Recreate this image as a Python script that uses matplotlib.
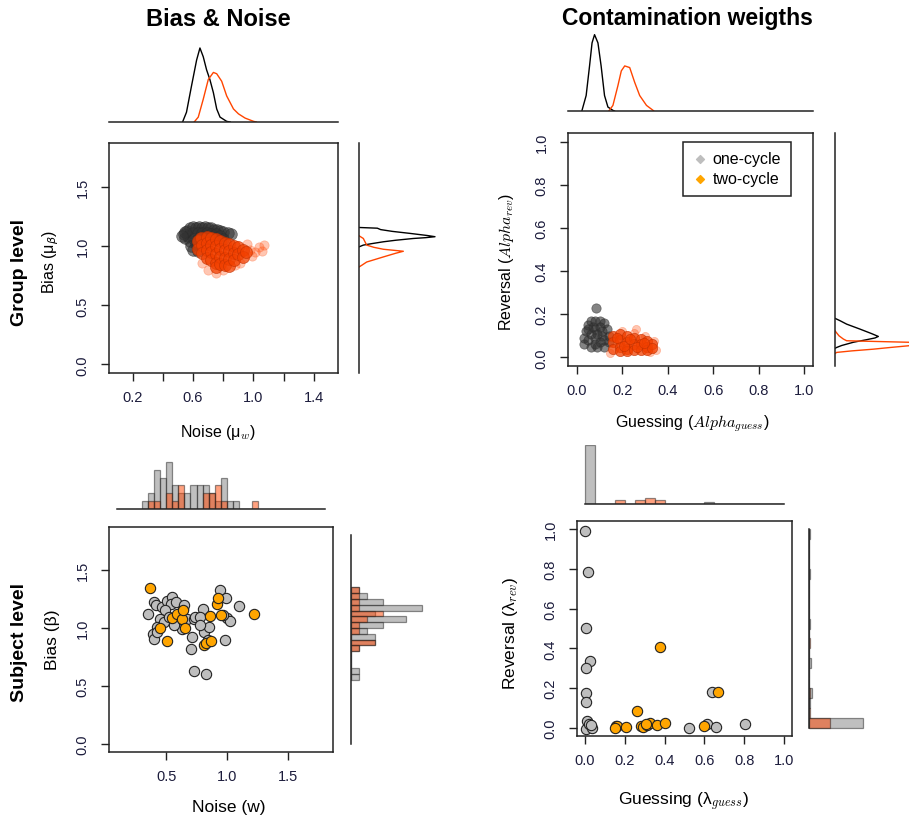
import numpy as np
import matplotlib
matplotlib.use('Agg')
import matplotlib.pyplot as plt

plt.rcParams['font.family'] = ['Liberation Sans', 'DejaVu Sans']

W, H = 909, 820

GREY_PT = '#BEBEBE'
ORANGE_PT = '#FFA500'
RED = '#FF4500'
TICK_C = '#1c1c3c'

# ---- group level, bias & noise: posterior samples ----
a_one_noise = [0.54, 0.55, 0.56, 0.58, 0.60, 0.62, 0.64, 0.66, 0.68, 0.70, 0.72, 0.74, 0.76, 0.78,
               0.80, 0.83, 0.85, 0.57, 0.60, 0.63, 0.66, 0.69, 0.72, 0.75, 0.78, 0.58, 0.61, 0.64,
               0.59, 0.62, 0.60, 0.63, 0.66, 0.70, 0.74, 0.80, 0.55, 0.53]
a_one_bias = [1.10, 1.07, 1.13, 1.15, 1.16, 1.15, 1.16, 1.15, 1.16, 1.15, 1.15, 1.14, 1.14, 1.13,
              1.12, 1.11, 1.10, 1.09, 1.11, 1.11, 1.11, 1.11, 1.10, 1.10, 1.09, 1.04, 1.06, 1.07,
              1.00, 1.02, 0.97, 0.96, 1.05, 1.06, 1.06, 1.06, 1.12, 1.09]
a_two_noise = [0.63, 0.63, 0.65, 0.66, 0.66, 0.69, 0.69, 0.69, 0.69, 0.72, 0.72, 0.72, 0.72, 0.75,
               0.75, 0.75, 0.75, 0.75, 0.78, 0.78, 0.78, 0.78, 0.81, 0.81, 0.81, 0.81, 0.84, 0.84,
               0.84, 0.84, 0.87, 0.87, 0.87, 0.90, 0.90, 0.93, 0.93, 0.95]
a_two_bias = [1.04, 0.98, 1.07, 1.01, 0.94, 1.08, 1.03, 0.97, 0.90, 1.07, 1.01, 0.95, 0.88, 1.06,
              1.00, 0.93, 0.86, 0.82, 1.04, 0.98, 0.91, 0.85, 1.03, 0.97, 0.90, 0.84, 1.02, 0.96,
              0.89, 0.83, 1.00, 0.94, 0.88, 0.99, 0.93, 0.97, 0.91, 0.95]
a_two_tail_noise = [0.98, 1.01, 1.04, 1.07, 1.06, 0.99, 0.91, 0.88, 0.70, 0.75, 0.80, 0.66, 0.96]
a_two_tail_bias = [0.97, 0.95, 0.99, 1.01, 0.96, 0.92, 0.86, 0.84, 0.80, 0.77, 0.80, 0.86, 1.02]

# marginal densities (group level, bias & noise)
a_top_x1 = [0.531, 0.557, 0.590, 0.624, 0.646, 0.668, 0.690, 0.712, 0.735, 0.757, 0.779, 0.823, 0.846]
a_top_d1 = [0, 30, 110, 190, 227, 200, 160, 130, 90, 40, 15, 2, 0]
a_top_x2 = [0.608, 0.635, 0.668, 0.701, 0.735, 0.757, 0.790, 0.823, 0.868, 0.901, 0.945, 1.001, 1.019]
a_top_d2 = [0, 15, 70, 130, 152, 148, 125, 80, 40, 25, 12, 2, 0]
a_rt_b1 = [1.158, 1.152, 1.14, 1.125, 1.108, 1.09, 1.08, 1.072, 1.065, 1.05, 1.037, 1.02, 1.009, 0.994]
a_rt_d1 = [0, 55, 65, 100, 153, 205, 228, 200, 163, 110, 73, 35, 13, 0]
a_rt_b2 = [1.088, 1.065, 1.009, 0.99, 0.974, 0.957, 0.94, 0.909, 0.866, 0.838, 0.824]
a_rt_d2 = [0, 13, 23, 45, 73, 133, 110, 73, 23, 8, 0]

# ---- group level, contamination weights ----
b_one_guess = [0.03, 0.03, 0.04, 0.05, 0.06, 0.08, 0.10, 0.12, 0.13, 0.14, 0.14, 0.12, 0.09, 0.06,
               0.05, 0.06, 0.08, 0.10, 0.11, 0.12, 0.08, 0.10, 0.07, 0.09, 0.05, 0.11, 0.08, 0.083]
b_one_rev = [0.06, 0.09, 0.12, 0.15, 0.17, 0.17, 0.17, 0.16, 0.13, 0.10, 0.07, 0.05, 0.05, 0.05,
             0.08, 0.11, 0.13, 0.14, 0.10, 0.08, 0.09, 0.07, 0.14, 0.11, 0.13, 0.12, 0.06, 0.229]
b_two_guess = [0.16, 0.16, 0.16, 0.19, 0.19, 0.19, 0.19, 0.22, 0.22, 0.22, 0.22, 0.25, 0.25, 0.25,
               0.28, 0.28, 0.28, 0.31, 0.31, 0.31, 0.33, 0.33, 0.175, 0.205, 0.235, 0.265, 0.295]
b_two_rev = [0.10, 0.07, 0.04, 0.11, 0.08, 0.05, 0.03, 0.10, 0.07, 0.04, 0.03, 0.09, 0.06, 0.035,
             0.085, 0.06, 0.035, 0.075, 0.05, 0.035, 0.06, 0.045, 0.09, 0.055, 0.085, 0.05, 0.065]
b_two_tail_guess = [0.26, 0.25, 0.35, 0.34, 0.145, 0.30, 0.32, 0.20]
b_two_tail_rev = [0.13, 0.115, 0.035, 0.075, 0.02, 0.10, 0.025, 0.12]

b_top_x1 = [0.021, 0.04, 0.055, 0.066, 0.077, 0.092, 0.106, 0.121, 0.136, 0.158, 0.165]
b_top_d1 = [0, 47, 137, 207, 232, 207, 137, 47, 12, 2, 0]
b_top_x2 = [0.14, 0.158, 0.18, 0.195, 0.21, 0.232, 0.254, 0.276, 0.306, 0.335, 0.338]
b_top_d2 = [0, 17, 77, 122, 137, 132, 87, 47, 17, 2, 0]
b_rt_r1 = [0.181, 0.17, 0.154, 0.131, 0.11, 0.097, 0.09, 0.082, 0.07, 0.055, 0.046, 0.042]
b_rt_d1 = [0, 15, 35, 75, 110, 130, 120, 95, 55, 20, 5, 0]
b_rt_r2 = [0.123, 0.10, 0.085, 0.077, 0.07, 0.062, 0.054, 0.045, 0.038, 0.03, 0.023, 0.018]
b_rt_d2 = [0, 12, 25, 35, 222, 290, 222, 160, 115, 50, 5, 0]

# ---- subject level, bias & noise ----
c_one_noise = [0.354, 0.400, 0.419, 0.467, 0.508, 0.549, 0.541, 0.584, 0.495, 0.454, 0.427, 0.394,
               0.400, 0.427, 0.481, 0.522, 0.589, 0.630, 0.638, 0.644, 0.671, 0.725, 0.738, 0.806,
               0.774, 0.711, 0.703, 0.725, 0.831, 0.812, 0.850, 0.847, 0.942, 0.991, 0.996, 1.023,
               0.982, 1.099, 0.779, 0.617, 0.562, 0.963]
c_one_bias = [1.124, 1.224, 1.195, 1.181, 1.230, 1.267, 1.210, 1.224, 1.152, 1.080, 1.009, 0.951,
              0.902, 0.966, 1.052, 1.095, 1.037, 0.994, 1.167, 1.195, 1.080, 1.080, 1.095, 1.167,
              1.095, 0.922, 0.816, 0.626, 0.601, 0.966, 1.009, 0.894, 1.325, 1.259, 1.086, 1.060,
              0.894, 1.187, 1.023, 1.095, 1.023, 1.109]
c_two_noise = [0.364, 0.446, 0.511, 0.549, 0.589, 0.630, 0.638, 0.652, 0.860, 0.812, 0.828, 0.866,
               0.915, 0.928, 0.947, 1.218]
c_two_bias = [1.345, 1.000, 0.888, 1.089, 1.124, 1.075, 1.158, 1.000, 1.103, 0.851, 0.874, 0.888,
              1.210, 1.259, 1.109, 1.124]

c_top_edges = np.round(np.arange(0.30, 1.2501, 0.05), 2)
c_top_one = [1, 2, 5, 4, 6, 3, 2, 2, 3, 3, 3, 2, 1, 4, 1, 1, 0, 0, 0]
c_top_two = [0, 1, 1, 0, 2, 1, 3, 0, 0, 0, 2, 2, 3, 1, 0, 0, 0, 0, 1]
c_rt_edges = np.round(np.arange(0.55, 1.3501, 0.05), 2)
c_rt_one = [1, 1, 0, 0, 0, 1, 3, 3, 2, 4, 7, 3, 9, 4, 2, 1]
c_rt_two = [0, 0, 0, 0, 0, 1, 3, 0, 1, 1, 2, 4, 1, 1, 1, 1]

# ---- subject level, contamination weights ----
d_one_guess = [0.000, 0.015, 0.007, 0.025, 0.005, 0.007, 0.007, 0.012, 0.003, 0.037, 0.020, 0.028,
               0.637, 0.615, 0.657, 0.523, 0.804]
d_one_rev = [0.988, 0.782, 0.501, 0.338, 0.303, 0.176, 0.131, 0.034, -0.003, 0.000, 0.022, 0.017,
             0.182, 0.020, 0.005, 0.000, 0.020]
d_two_guess = [0.375, 0.670, 0.263, 0.154, 0.159, 0.204, 0.280, 0.290, 0.313, 0.327, 0.363, 0.402,
               0.598, 0.151, 0.305]
d_two_rev = [0.405, 0.182, 0.087, 0.010, 0.010, 0.005, 0.010, 0.003, 0.017, 0.027, 0.013, 0.027,
             0.012, 0.002, 0.022]

d_edges = np.round(np.arange(0, 1.0001, 0.05), 2)
d_top_one = [13.5, 0, 0, 0, 0.1, 0, 0, 0, 0, 0, 0.1, 0.1, 0.55, 0.1, 0, 0, 0.1, 0, 0, 0]
d_top_two = [0, 0, 0, 1.0, 0, 1.0, 1.3, 1.0, 0, 0, 0, 0, 0, 0, 0, 0, 0, 0, 0, 0]
d_rt_one = [54, 0, 0.8, 3, 0, 0, 1.5, 0, 0, 0, 1, 0, 0, 0, 0, 1, 0, 0, 0, 1]
d_rt_two = [21, 0.8, 0, 1, 0, 0, 0, 0, 0.8, 0, 0, 0, 0, 0, 0, 0, 0, 0, 0, 0]


def box(l, t, r, b):
    return [l / W, 1 - b / H, (r - l) / W, (b - t) / H]


def main_axes(rect, xlim, ylim, xticks, xlabels, yticks, ylabels):
    ax = fig.add_axes(box(*rect))
    ax.set_xlim(xlim)
    ax.set_ylim(ylim)
    ax.set_xticks(xticks)
    ax.set_xticklabels(xlabels)
    ax.set_yticks(yticks)
    ax.set_yticklabels(ylabels, rotation=90, va='center')
    ax.tick_params(direction='out', length=6, width=1, labelsize=10.5, color='#222222',
                   labelcolor=TICK_C)
    ax.tick_params(axis='x', pad=6)
    ax.tick_params(axis='y', pad=8)
    for s in ax.spines.values():
        s.set_linewidth(1.1)
        s.set_color('#222222')
    return ax


def margin_axes(rect, side):
    ax = fig.add_axes(box(*rect))
    ax.patch.set_alpha(0)
    for k, s in ax.spines.items():
        s.set_visible(k == side)
        s.set_linewidth(1.1)
        s.set_color('#222222')
    ax.set_xticks([])
    ax.set_yticks([])
    return ax


fig = plt.figure(figsize=(W / 100, H / 100), dpi=100)

# ================= A: group level, bias & noise =================
xa, ya = (0.044, 1.56), (-0.072, 1.872)
ax = main_axes((109, 144, 338, 374), xa, ya, [0.2, 0.4, 0.6, 0.8, 1.0, 1.2, 1.4],
               ['0.2', '', '0.6', '', '1.0', '', '1.4'], [0, 0.5, 1.0, 1.5], ['0.0', '0.5', '1.0', '1.5'])
ax.scatter(a_one_noise, a_one_bias, s=70, color='#333333', alpha=0.6, edgecolors='#2a2a2a', linewidths=0.5)
ax.scatter(a_two_tail_noise, a_two_tail_bias, s=45, color=RED, alpha=0.3, edgecolors=RED, linewidths=0.5)
ax.scatter(a_two_noise, a_two_bias, s=75, color='#F24000', alpha=0.75, edgecolors='#c03000', linewidths=0.5)

ax = margin_axes((109, 48, 338, 123), 'bottom')
ax.set_xlim(xa)
ax.set_ylim(0, 230)
ax.plot(a_top_x1, a_top_d1, color='black', lw=1)
ax.plot(a_top_x2, a_top_d2, color=RED, lw=1)

ax = margin_axes((359, 144, 439, 374), 'left')
ax.set_ylim(ya)
ax.set_xlim(0, 240)
ax.plot(a_rt_d1, a_rt_b1, color='black', lw=1)
ax.plot(a_rt_d2, a_rt_b2, color=RED, lw=1)

# ================= B: group level, contamination =================
xb = yb = (-0.04, 1.04)
t6 = [0, 0.2, 0.4, 0.6, 0.8, 1.0]
l6 = ['0.0', '0.2', '0.4', '0.6', '0.8', '1.0']
ax = main_axes((568, 134, 813, 367), xb, yb, t6, l6, t6, l6)
ax.scatter(b_one_guess, b_one_rev, s=45, color='#333333', alpha=0.6, edgecolors='#2a2a2a', linewidths=0.5)
ax.scatter(b_two_tail_guess, b_two_tail_rev, s=35, color=RED, alpha=0.3, edgecolors=RED, linewidths=0.5)
ax.scatter(b_two_guess, b_two_rev, s=55, color='#F24000', alpha=0.75, edgecolors='#c03000', linewidths=0.5)
h1 = ax.scatter([], [], marker='D', s=16, color=GREY_PT, label='one-cycle')
h2 = ax.scatter([], [], marker='D', s=16, color=ORANGE_PT, label='two-cycle')
leg = ax.legend(handles=[h1, h2], loc='upper right', bbox_to_anchor=(0.91, 0.962), fontsize=11.5,
                fancybox=False, edgecolor='#222222', framealpha=1, handletextpad=0.3,
                borderpad=0.6, labelspacing=0.3, handlelength=1.0, borderaxespad=0)
leg.get_frame().set_linewidth(1.1)

ax = margin_axes((568, 35, 813, 112), 'bottom')
ax.set_xlim(xb)
ax.set_ylim(0, 234)
ax.plot(b_top_x1, b_top_d1, color='black', lw=1)
ax.plot(b_top_x2, b_top_d2, color=RED, lw=1)

ax = margin_axes((835, 134, 909, 367), 'left')
ax.set_ylim(yb)
ax.set_xlim(0, 222)
ax.plot(b_rt_d1, b_rt_r1, color='black', lw=1)
ax.plot(b_rt_d2, b_rt_r2, color=RED, lw=1)

# ================= C: subject level, bias & noise =================
xc, yc = (0.032, 1.868), (-0.072, 1.872)
ax = main_axes((109, 528, 333, 753), xc, yc, [0.5, 1.0, 1.5], ['0.5', '1.0', '1.5'],
               [0, 0.5, 1.0, 1.5], ['0.0', '0.5', '1.0', '1.5'])
ax.scatter(c_one_noise, c_one_bias, s=55, color=GREY_PT, edgecolors='#222222', linewidths=0.8, zorder=3)
ax.scatter(c_two_noise, c_two_bias, s=55, color=ORANGE_PT, edgecolors='#222222', linewidths=0.8, zorder=4)

ax = margin_axes((109, 462, 333, 510), 'bottom')
ax.set_xlim(xc)
ax.set_ylim(0, 6.1)
ax.spines['bottom'].set_bounds(0.1, 1.8)
ax.bar(c_top_edges[:-1], c_top_one, width=0.05, align='edge', color='#808080', alpha=0.5,
       edgecolor='#222222', linewidth=0.9)
ax.bar(c_top_edges[:-1], c_top_two, width=0.05, align='edge', color=RED, alpha=0.5,
       edgecolor='#222222', linewidth=0.9)

ax = margin_axes((351, 528, 431, 753), 'left')
ax.set_ylim(yc)
ax.set_xlim(0, 10.1)
ax.spines['left'].set_bounds(0, 1.8)
ax.barh(c_rt_edges[:-1], c_rt_one, height=0.05, align='edge', color='#808080', alpha=0.5,
        edgecolor='#222222', linewidth=0.9)
ax.barh(c_rt_edges[:-1], c_rt_two, height=0.05, align='edge', color=RED, alpha=0.5,
        edgecolor='#222222', linewidth=0.9)

# ================= D: subject level, contamination =================
xd = yd = (-0.04, 1.04)
ax = main_axes((577, 522, 792, 737), xd, yd, t6, l6, t6, l6)
ax.scatter(d_one_guess, d_one_rev, s=55, color=GREY_PT, edgecolors='#222222', linewidths=0.8, zorder=3)
ax.scatter(d_two_guess, d_two_rev, s=55, color=ORANGE_PT, edgecolors='#222222', linewidths=0.8, zorder=4)

ax = margin_axes((577, 446, 792, 505), 'bottom')
ax.set_xlim(xd)
ax.set_ylim(0, 13.6)
ax.spines['bottom'].set_bounds(0, 1)
ax.bar(d_edges[:-1], d_top_one, width=0.05, align='edge', color='#808080', alpha=0.5,
       edgecolor='#222222', linewidth=0.9)
ax.bar(d_edges[:-1], d_top_two, width=0.05, align='edge', color=RED, alpha=0.5,
       edgecolor='#222222', linewidth=0.9)

ax = margin_axes((809, 522, 869, 737), 'left')
ax.set_ylim(yd)
ax.set_xlim(0, 60)
ax.spines['left'].set_bounds(0, 1)
ax.barh(d_edges[:-1], d_rt_one, height=0.05, align='edge', color='#808080', alpha=0.5,
        edgecolor='#222222', linewidth=0.9)
ax.barh(d_edges[:-1], d_rt_two, height=0.05, align='edge', color=RED, alpha=0.5,
        edgecolor='#222222', linewidth=0.9)

# ================= text =================
def ftext(x, y, s, **kw):
    fig.text(x / W, 1 - y / H, s, ha='center', va='center', **kw)


ftext(218, 20, 'Bias & Noise', fontsize=17, fontweight='bold')
ftext(687, 18, 'Contamination weigths', fontsize=16.5, fontweight='bold')
ftext(20, 273, 'Group level', fontsize=14, fontweight='bold', rotation=90)
ftext(20, 643, 'Subject level', fontsize=14, fontweight='bold', rotation=90)
ftext(51, 262, 'Bias (μ$_{β}$)', fontsize=11.5, rotation=90)
ftext(218, 433, 'Noise (μ$_{w}$)', fontsize=11.5, math_fontfamily='cm')
ftext(507, 262, 'Reversal ($Alpha_{rev}$)', fontsize=11.5, rotation=90, math_fontfamily='cm')
ftext(692, 424, 'Guessing ($Alpha_{guess}$)', fontsize=11.5, math_fontfamily='cm')
ftext(53, 640, 'Bias (β)', fontsize=12.5, rotation=90)
ftext(229, 808, 'Noise (w)', fontsize=12.5)
ftext(510, 633, 'Reversal (λ$_{rev}$)', fontsize=12.5, rotation=90, math_fontfamily='cm')
ftext(684, 802, 'Guessing (λ$_{guess}$)', fontsize=12.5, math_fontfamily='cm')

fig.savefig('out.png', dpi=100)
